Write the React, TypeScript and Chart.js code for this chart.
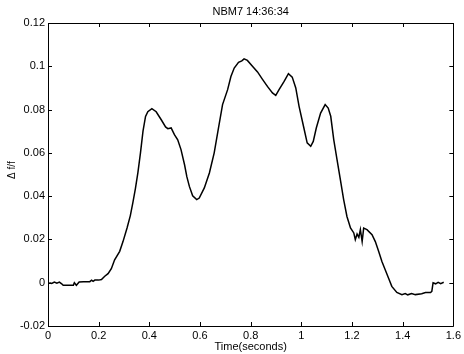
import React, { useEffect, useRef } from "react";
import { Chart, registerables } from "chart.js";

Chart.register(...registerables);

const TITLE = "NBM7 14:36:34";
const X_TITLE = "Time(seconds)";
const Y_TITLE = "Δ f/f";

const timeSeconds = [
  0.005, 0.015, 0.025, 0.035, 0.045, 0.054, 0.06, 0.08, 0.1, 0.104, 0.112, 0.123,
  0.14, 0.165, 0.172, 0.178, 0.185, 0.2, 0.211, 0.224, 0.237, 0.25, 0.263, 0.283,
  0.296, 0.312, 0.325, 0.335, 0.345, 0.355, 0.365, 0.375, 0.385, 0.394, 0.41, 0.427, 0.447,
  0.464, 0.473, 0.486, 0.499, 0.512, 0.525, 0.539, 0.548, 0.558, 0.571, 0.587, 0.597,
  0.617, 0.637, 0.656, 0.673, 0.689, 0.709, 0.722, 0.735, 0.752, 0.765, 0.774, 0.787,
  0.807, 0.827, 0.846, 0.866, 0.886, 0.899, 0.912, 0.932, 0.949, 0.964, 0.978, 0.991,
  1.01, 1.023, 1.037, 1.047, 1.059, 1.076, 1.094, 1.106, 1.116, 1.128, 1.141, 1.154,
  1.167, 1.18, 1.194, 1.207, 1.213, 1.22, 1.227, 1.233, 1.24, 1.246, 1.259, 1.279,
  1.292, 1.305, 1.318, 1.331, 1.344, 1.357, 1.377, 1.397, 1.41, 1.42, 1.435, 1.45,
  1.475, 1.49, 1.51, 1.515, 1.52, 1.53, 1.54, 1.55, 1.562,
];

const deltaFF = [
  0.0, -0.0003, 0.0003, -0.0002, 0.0003, -0.0005, -0.0012, -0.0012, -0.0012, 0.0, -0.0012, 0.0003,
  0.0005, 0.0005, 0.0012, 0.0006, 0.0012, 0.0012, 0.0015, 0.003, 0.0042, 0.0065, 0.0106, 0.0145,
  0.019, 0.0253, 0.031, 0.037, 0.0435, 0.051, 0.06, 0.07, 0.0768, 0.079, 0.0804, 0.079, 0.0753,
  0.072, 0.0712, 0.0715, 0.0684, 0.066, 0.0615, 0.0545, 0.049, 0.0445, 0.0402, 0.0384, 0.0391,
  0.0438, 0.0507, 0.06, 0.0715, 0.0823, 0.0892, 0.0953, 0.0992, 0.1018, 0.1025, 0.1034, 0.1027,
  0.1, 0.0974, 0.0941, 0.0907, 0.0877, 0.0866, 0.0892, 0.093, 0.0966, 0.095, 0.09, 0.0815,
  0.0715, 0.0646, 0.063, 0.0653, 0.0715, 0.0784, 0.0823, 0.0807, 0.0769, 0.066, 0.0568, 0.0476,
  0.0384, 0.0306, 0.0253, 0.023, 0.0199, 0.0225, 0.021, 0.0245, 0.019, 0.0252, 0.0245, 0.0222,
  0.019, 0.0145, 0.0098, 0.006, 0.0022, -0.0017, -0.0045, -0.0055, -0.005, -0.0056, -0.005, -0.0055,
  -0.0051, -0.0045, -0.0045, -0.004, 0.0, -0.0005, 0.0002, -0.0004, 0.0002,
];

const X_MIN = 0;
const X_MAX = 1.6;
const X_STEP = 0.2;
const Y_MIN = -0.02;
const Y_MAX = 0.12;
const Y_STEP = 0.02;

const FONT = "'Liberation Sans', Arial, Helvetica, sans-serif";

const fmt = (v: number) => String(Number(Number(v).toFixed(4)));

const matlabBox = {
  id: "matlabBox",
  afterDraw(chart: any) {
    const { ctx, chartArea } = chart;
    const { left, right, top, bottom } = chartArea;
    const xs = chart.scales.x;
    const ys = chart.scales.y;
    const tl = 4;
    ctx.save();
    ctx.strokeStyle = "#000";
    ctx.lineWidth = 1;
    ctx.beginPath();
    ctx.rect(Math.round(left) + 0.5, Math.round(top) + 0.5, Math.round(right - left), Math.round(bottom - top));
    ctx.stroke();
    ctx.beginPath();
    xs.ticks.forEach((t: any) => {
      const px = Math.round(xs.getPixelForValue(t.value)) + 0.5;
      ctx.moveTo(px, bottom);
      ctx.lineTo(px, bottom - tl);
      ctx.moveTo(px, top);
      ctx.lineTo(px, top + tl);
    });
    ys.ticks.forEach((t: any) => {
      const py = Math.round(ys.getPixelForValue(t.value)) + 0.5;
      ctx.moveTo(left, py);
      ctx.lineTo(left + tl, py);
      ctx.moveTo(right, py);
      ctx.lineTo(right - tl, py);
    });
    ctx.stroke();

    ctx.fillStyle = "#000";
    ctx.font = `11px ${FONT}`;
    ctx.textAlign = "center";
    ctx.textBaseline = "middle";
    const cx = (left + right) / 2;
    ctx.fillText(TITLE, cx, 12);
    ctx.fillText(X_TITLE, cx, 347);
    ctx.translate(12, 170);
    ctx.rotate(-Math.PI / 2);
    ctx.font = `10px ${FONT}`;
    ctx.fillText(Y_TITLE, 0, 0);
    ctx.restore();
  },
};

export default function App() {
  const ref = useRef<HTMLCanvasElement | null>(null);

  useEffect(() => {
    document.body.style.margin = "0";
    if (!ref.current) return;
    const points = timeSeconds.map((x, i) => ({ x, y: deltaFF[i] }));
    const chart = new Chart(ref.current, {
      type: "line",
      data: {
        datasets: [
          {
            data: points,
            borderColor: "#000",
            borderWidth: 1.5,
            pointRadius: 0,
            tension: 0,
            fill: false,
          },
        ],
      },
      options: {
        responsive: false,
        animation: false,
        layout: { padding: { top: 23, right: 9, left: 0, bottom: 0 } },
        plugins: { legend: { display: false }, tooltip: { enabled: false }, title: { display: false } },
        scales: {
          x: {
            type: "linear",
            min: X_MIN,
            max: X_MAX,
            grid: { display: false, drawTicks: false },
            border: { display: false },
            ticks: {
              stepSize: X_STEP,
              color: "#000",
              font: { family: FONT, size: 11 },
              padding: 3,
              maxRotation: 0,
              autoSkip: false,
              callback: (v: any) => fmt(v),
            },
            afterFit: (s: any) => {
              s.height = 28;
            },
          },
          y: {
            type: "linear",
            min: Y_MIN,
            max: Y_MAX,
            grid: { display: false, drawTicks: false },
            border: { display: false },
            ticks: {
              stepSize: Y_STEP,
              color: "#000",
              font: { family: FONT, size: 11 },
              padding: 3,
              autoSkip: false,
              callback: (v: any) => fmt(v),
            },
            afterFit: (s: any) => {
              s.width = 48;
            },
          },
        },
      },
      plugins: [matlabBox],
    });
    return () => chart.destroy();
  }, []);

  return (
    <div style={{ position: "absolute", left: 0, top: 0, width: 464, height: 354, background: "#fff" }}>
      <canvas ref={ref} width={464} height={354} />
    </div>
  );
}
